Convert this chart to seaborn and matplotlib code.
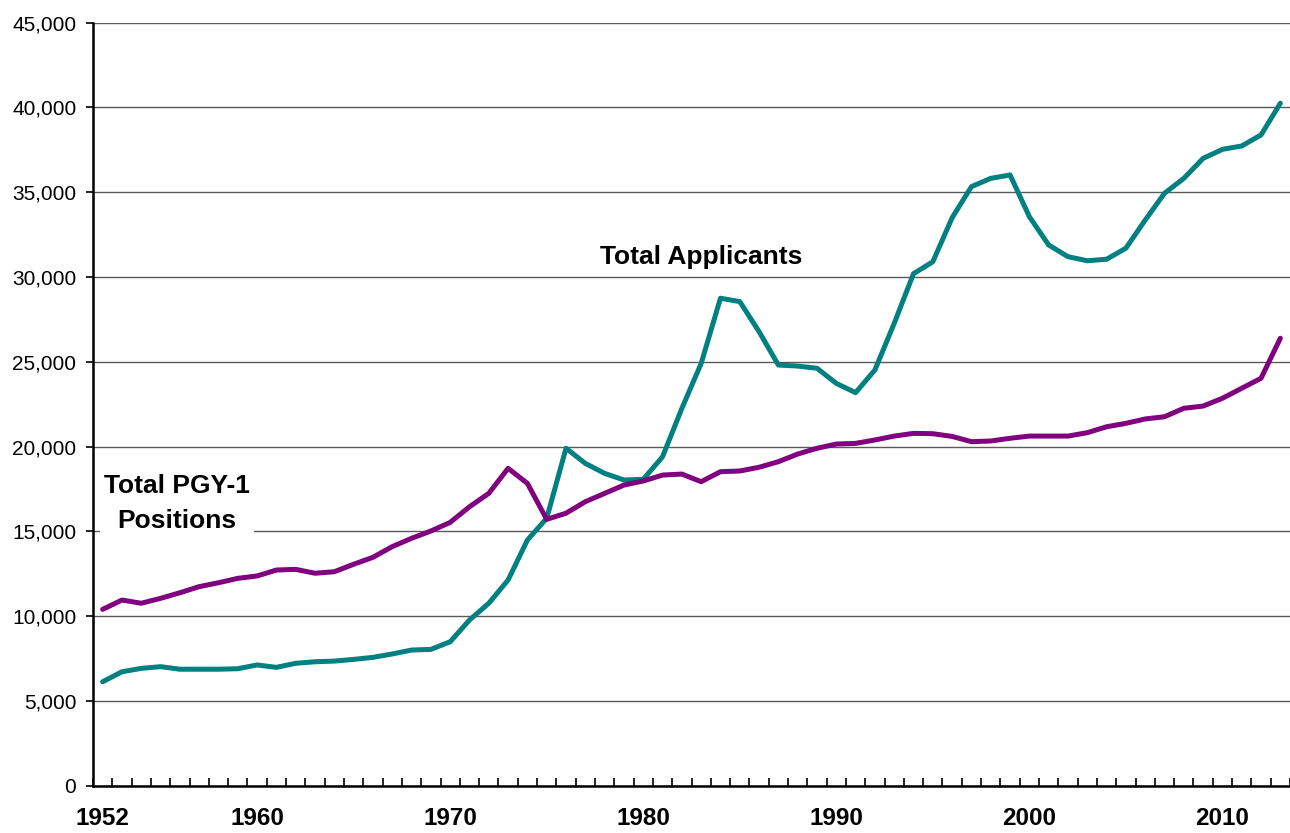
import matplotlib
matplotlib.use("Agg")
import matplotlib.pyplot as plt
import seaborn as sns
import pandas as pd
from matplotlib.ticker import FuncFormatter, MultipleLocator

years = list(range(1952, 2014))
applicants = [6130, 6720, 6920, 7020, 6870, 6870, 6870, 6900, 7120, 6980,
              7220, 7310, 7350, 7450, 7570, 7770, 8000, 8040, 8490, 9770,
              10760, 12130, 14490, 15770, 19900, 19010, 18420, 18030, 18070, 19400,
              22250, 24900, 28750, 28550, 26780, 24810, 24750, 24620, 23730, 23180,
              24520, 27270, 30200, 30900, 33500, 35330, 35820, 36020, 33560, 31890,
              31200, 30960, 31050, 31700, 33360, 34940, 35820, 37000, 37530, 37730,
              38380, 40250]
positions = [10400, 10950, 10760, 11050, 11380, 11740, 11970, 12230, 12370, 12720,
             12760, 12530, 12620, 13060, 13470, 14100, 14590, 15020, 15530, 16450,
             17240, 18720, 17830, 15710, 16070, 16750, 17240, 17730, 17970, 18320,
             18380, 17930, 18520, 18560, 18780, 19110, 19560, 19900, 20150, 20190,
             20390, 20620, 20780, 20760, 20600, 20290, 20330, 20490, 20620, 20620,
             20620, 20820, 21170, 21370, 21630, 21760, 22260, 22390, 22850, 23440,
             24030, 26390]
label_years = [1952, 1960, 1970, 1980, 1990, 2000, 2010]
series_names = ["Total Applicants", "Total PGY-1 Positions"]
series_colors = ["#008080", "#800080"]

sns.set_theme(style="white")
plt.rcParams['font.family'] = ['Liberation Sans', 'DejaVu Sans']
plt.rcParams['text.color'] = 'black'
plt.rcParams['xtick.color'] = 'black'
plt.rcParams['ytick.color'] = 'black'
plt.rcParams['axes.labelcolor'] = 'black'

df = pd.DataFrame({
    "Year": years + years,
    "Value": applicants + positions,
    "Series": [series_names[0]] * len(years) + [series_names[1]] * len(years),
})

fig = plt.figure(figsize=(12.9, 8.33), dpi=100)
ax = fig.add_axes([93 / 1290, 47.3 / 833, 1197 / 1290, 763 / 833])

sns.lineplot(data=df, x="Year", y="Value", hue="Series",
             palette=dict(zip(series_names, series_colors)),
             linewidth=3.6, legend=False, ax=ax, zorder=3)

ax.set_xlim(1951.5, 2013.5)
ax.set_ylim(0, 45000)
ax.set_xlabel("")
ax.set_ylabel("")
ax.set_axisbelow(True)

ax.yaxis.set_major_locator(MultipleLocator(5000))
ax.yaxis.set_major_formatter(FuncFormatter(lambda v, p: f"{v:,.0f}"))
ax.grid(axis="y", color="#5a5a5a", linewidth=1)
ax.grid(axis="x", visible=False)

ax.set_xticks(label_years)
ax.set_xticklabels([str(y) for y in label_years], fontsize=17.5, fontweight="bold",
                   color="black")
ax.set_xticks([1951.5 + k for k in range(63)], minor=True)
ax.tick_params(axis="x", which="major", length=0, pad=15)
ax.tick_params(axis="x", which="minor", direction="in", length=5.8, width=1.2,
               color="black", bottom=True)
ax.tick_params(axis="y", which="major", direction="out", length=5, width=1.2,
               color="black", labelsize=15, labelcolor="black", pad=7, left=True)

for s in ["top", "right"]:
    ax.spines[s].set_visible(False)
for s in ["left", "bottom"]:
    ax.spines[s].set_color("black")
    ax.spines[s].set_linewidth(1.8)

ax.text(0.508, 0.693, "Total Applicants", transform=ax.transAxes,
        ha="center", va="center", fontsize=19, fontweight="bold",
        color="black", zorder=4)
ax.text(0.0702, 0.370, "Total PGY-1\nPositions", transform=ax.transAxes,
        ha="center", va="center", fontsize=19, fontweight="bold",
        color="black", linespacing=1.55, zorder=4,
        bbox=dict(facecolor="white", edgecolor="none", pad=3))

fig.savefig("out.png", dpi=100)
